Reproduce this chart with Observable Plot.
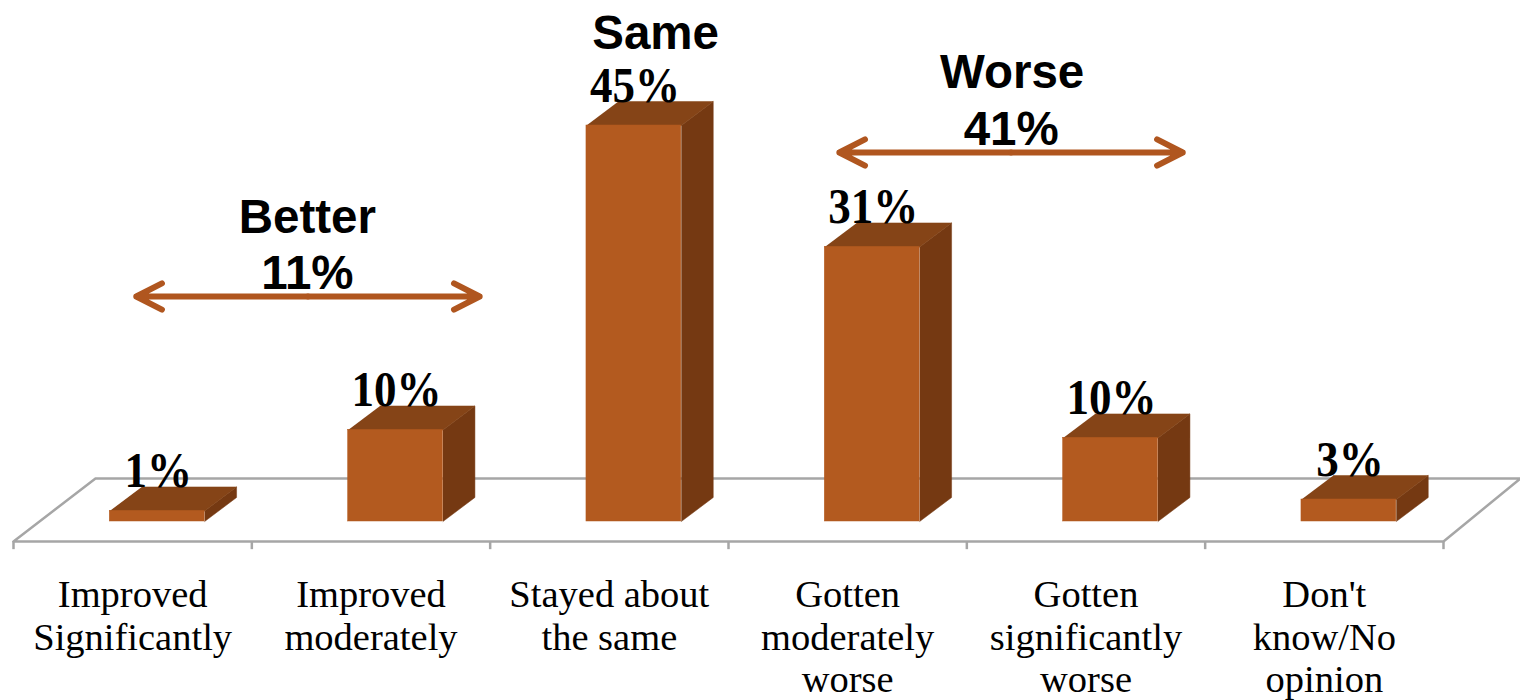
<!DOCTYPE html>
<html><head><meta charset="utf-8">
<script src="https://cdn.jsdelivr.net/npm/d3@7"></script>
<script src="https://cdn.jsdelivr.net/npm/@observablehq/plot@0.6"></script>
<style>html,body{margin:0;padding:0;background:#fff}svg{display:block;max-width:none!important}</style>
</head><body><div id="chart"></div>
<script>
const categories = ["Improved\nSignificantly","Improved\nmoderately","Stayed about\nthe same","Gotten\nmoderately\nworse","Gotten\nsignificantly\nworse","Don't\nknow/No\nopinion"];
const barHeights = [1.2, 10.4, 45, 31.2, 9.5, 2.5];
const valueLabels = ["1%","10%","45%","31%","10%","3%"];
const groupNames = ["Better","Same","Worse"];
const groupNameX = [1.233, 2.694, 4.19];
const groupNameY = [32.8, 53.7, 49.3];
const groupTotals = ["11%","41%"];
const groupTotalX = [1.233, 4.186];
const groupTotalY = [26.45, 42.8];
const spanStart = [0.515, 3.465];
const spanEnd = [1.956, 4.906];
const spanLevel = [25.57, 41.93];
const depthX = 0.134, depthY = 2.73;
const barLeft = 0.404, barRight = 0.802;
const floorFrontY = -2.27, floorBackY = 4.89, tickBottomY = -3.2;
const floorBackLeftX = 0.344, floorRightX = 6.323;
const labelBottomY = -6.27;

const bars = categories.map((c,i)=>({i, h:barHeights[i], label:valueLabels[i], cat:c,
  x1:i+barLeft, x2:i+barRight, xc:i+(barLeft+barRight)/2}));
const sideFaces = bars.flatMap(b=>[
  {k:b.i,x:b.x2,y:0},{k:b.i,x:b.x2+depthX,y:depthY},{k:b.i,x:b.x2+depthX,y:b.h+depthY},{k:b.i,x:b.x2,y:b.h}]);
const topFaces = bars.flatMap(b=>[
  {k:b.i,x:b.x1,y:b.h},{k:b.i,x:b.x2,y:b.h},{k:b.i,x:b.x2+depthX,y:b.h+depthY},{k:b.i,x:b.x1+depthX,y:b.h+depthY}]);
const floorOutline = [
  {x:floorRightX,y:floorBackY},{x:floorBackLeftX,y:floorBackY},{x:0,y:floorFrontY},{x:6,y:floorFrontY},{x:floorRightX,y:floorBackY}];
const spans = spanStart.map((s,i)=>({s,e:spanEnd[i],m:(s+spanEnd[i])/2,y:spanLevel[i]}));

const front="#B35A1F", side="#753912", top_="#854417", arrowC="#B0561F", grid="#A6A6A6";
const sans='"Liberation Sans",Arial,sans-serif', serif='"Liberation Serif","Times New Roman",serif';

const plot = Plot.plot({
  width:1520,height:700,margin:0,
  x:{type:"linear",domain:[0,6],range:[13,1443],axis:null},
  y:{type:"linear",domain:[0,45],range:[521,125],axis:null},
  marks:[
    Plot.line(floorOutline,{x:"x",y:"y",stroke:grid,strokeWidth:2.5}),
    Plot.ruleX(d3.range(7),{x:d=>d,y1:floorFrontY,y2:tickBottomY,stroke:grid,strokeWidth:2.5}),
    Plot.line(sideFaces,{x:"x",y:"y",z:"k",fill:side,stroke:side,strokeWidth:0.5}),
    Plot.line(topFaces,{x:"x",y:"y",z:"k",fill:top_,stroke:top_,strokeWidth:0.5}),
    Plot.rect(bars,{x1:"x1",x2:"x2",y1:0,y2:"h",fill:front,stroke:front,strokeWidth:0.5}),
    Plot.arrow(spans,{x1:"m",y1:"y",x2:"s",y2:"y",stroke:arrowC,strokeWidth:6,headLength:7.2,headAngle:54,strokeLinecap:"round"}),
    Plot.arrow(spans,{x1:"m",y1:"y",x2:"e",y2:"y",stroke:arrowC,strokeWidth:6,headLength:7.2,headAngle:54,strokeLinecap:"round"}),
    Plot.text(bars,{x:"xc",y:"h",text:"label",dx:1,dy:-24,lineAnchor:"bottom",fontFamily:serif,fontWeight:"bold",fontSize:50,fill:"#000"}),
    Plot.text(bars,{x:d=>d.i+0.5,y:labelBottomY,text:"cat",lineAnchor:"top",lineHeight:1.11,fontFamily:serif,fontSize:38.5,fill:"#000"}),
    Plot.text(groupNames,{x:(d,i)=>groupNameX[i],y:(d,i)=>groupNameY[i],text:d=>d,lineAnchor:"bottom",fontFamily:sans,fontWeight:"bold",fontSize:47.5,fill:"#000"}),
    Plot.text(groupTotals,{x:(d,i)=>groupTotalX[i],y:(d,i)=>groupTotalY[i],text:d=>d,lineAnchor:"bottom",fontFamily:sans,fontWeight:"bold",fontSize:47.5,fill:"#000"})
  ]
});
document.getElementById("chart").append(plot);
// The reference's bold percentages are condensed: narrow them while keeping their height.
d3.select(plot).selectAll("text").filter(function(){return getComputedStyle(this).fontSize==="50px"}).each(function(){
  this.setAttribute("textLength", this.getComputedTextLength()*0.9);
  this.setAttribute("lengthAdjust","spacingAndGlyphs");
});
</script></body></html>
